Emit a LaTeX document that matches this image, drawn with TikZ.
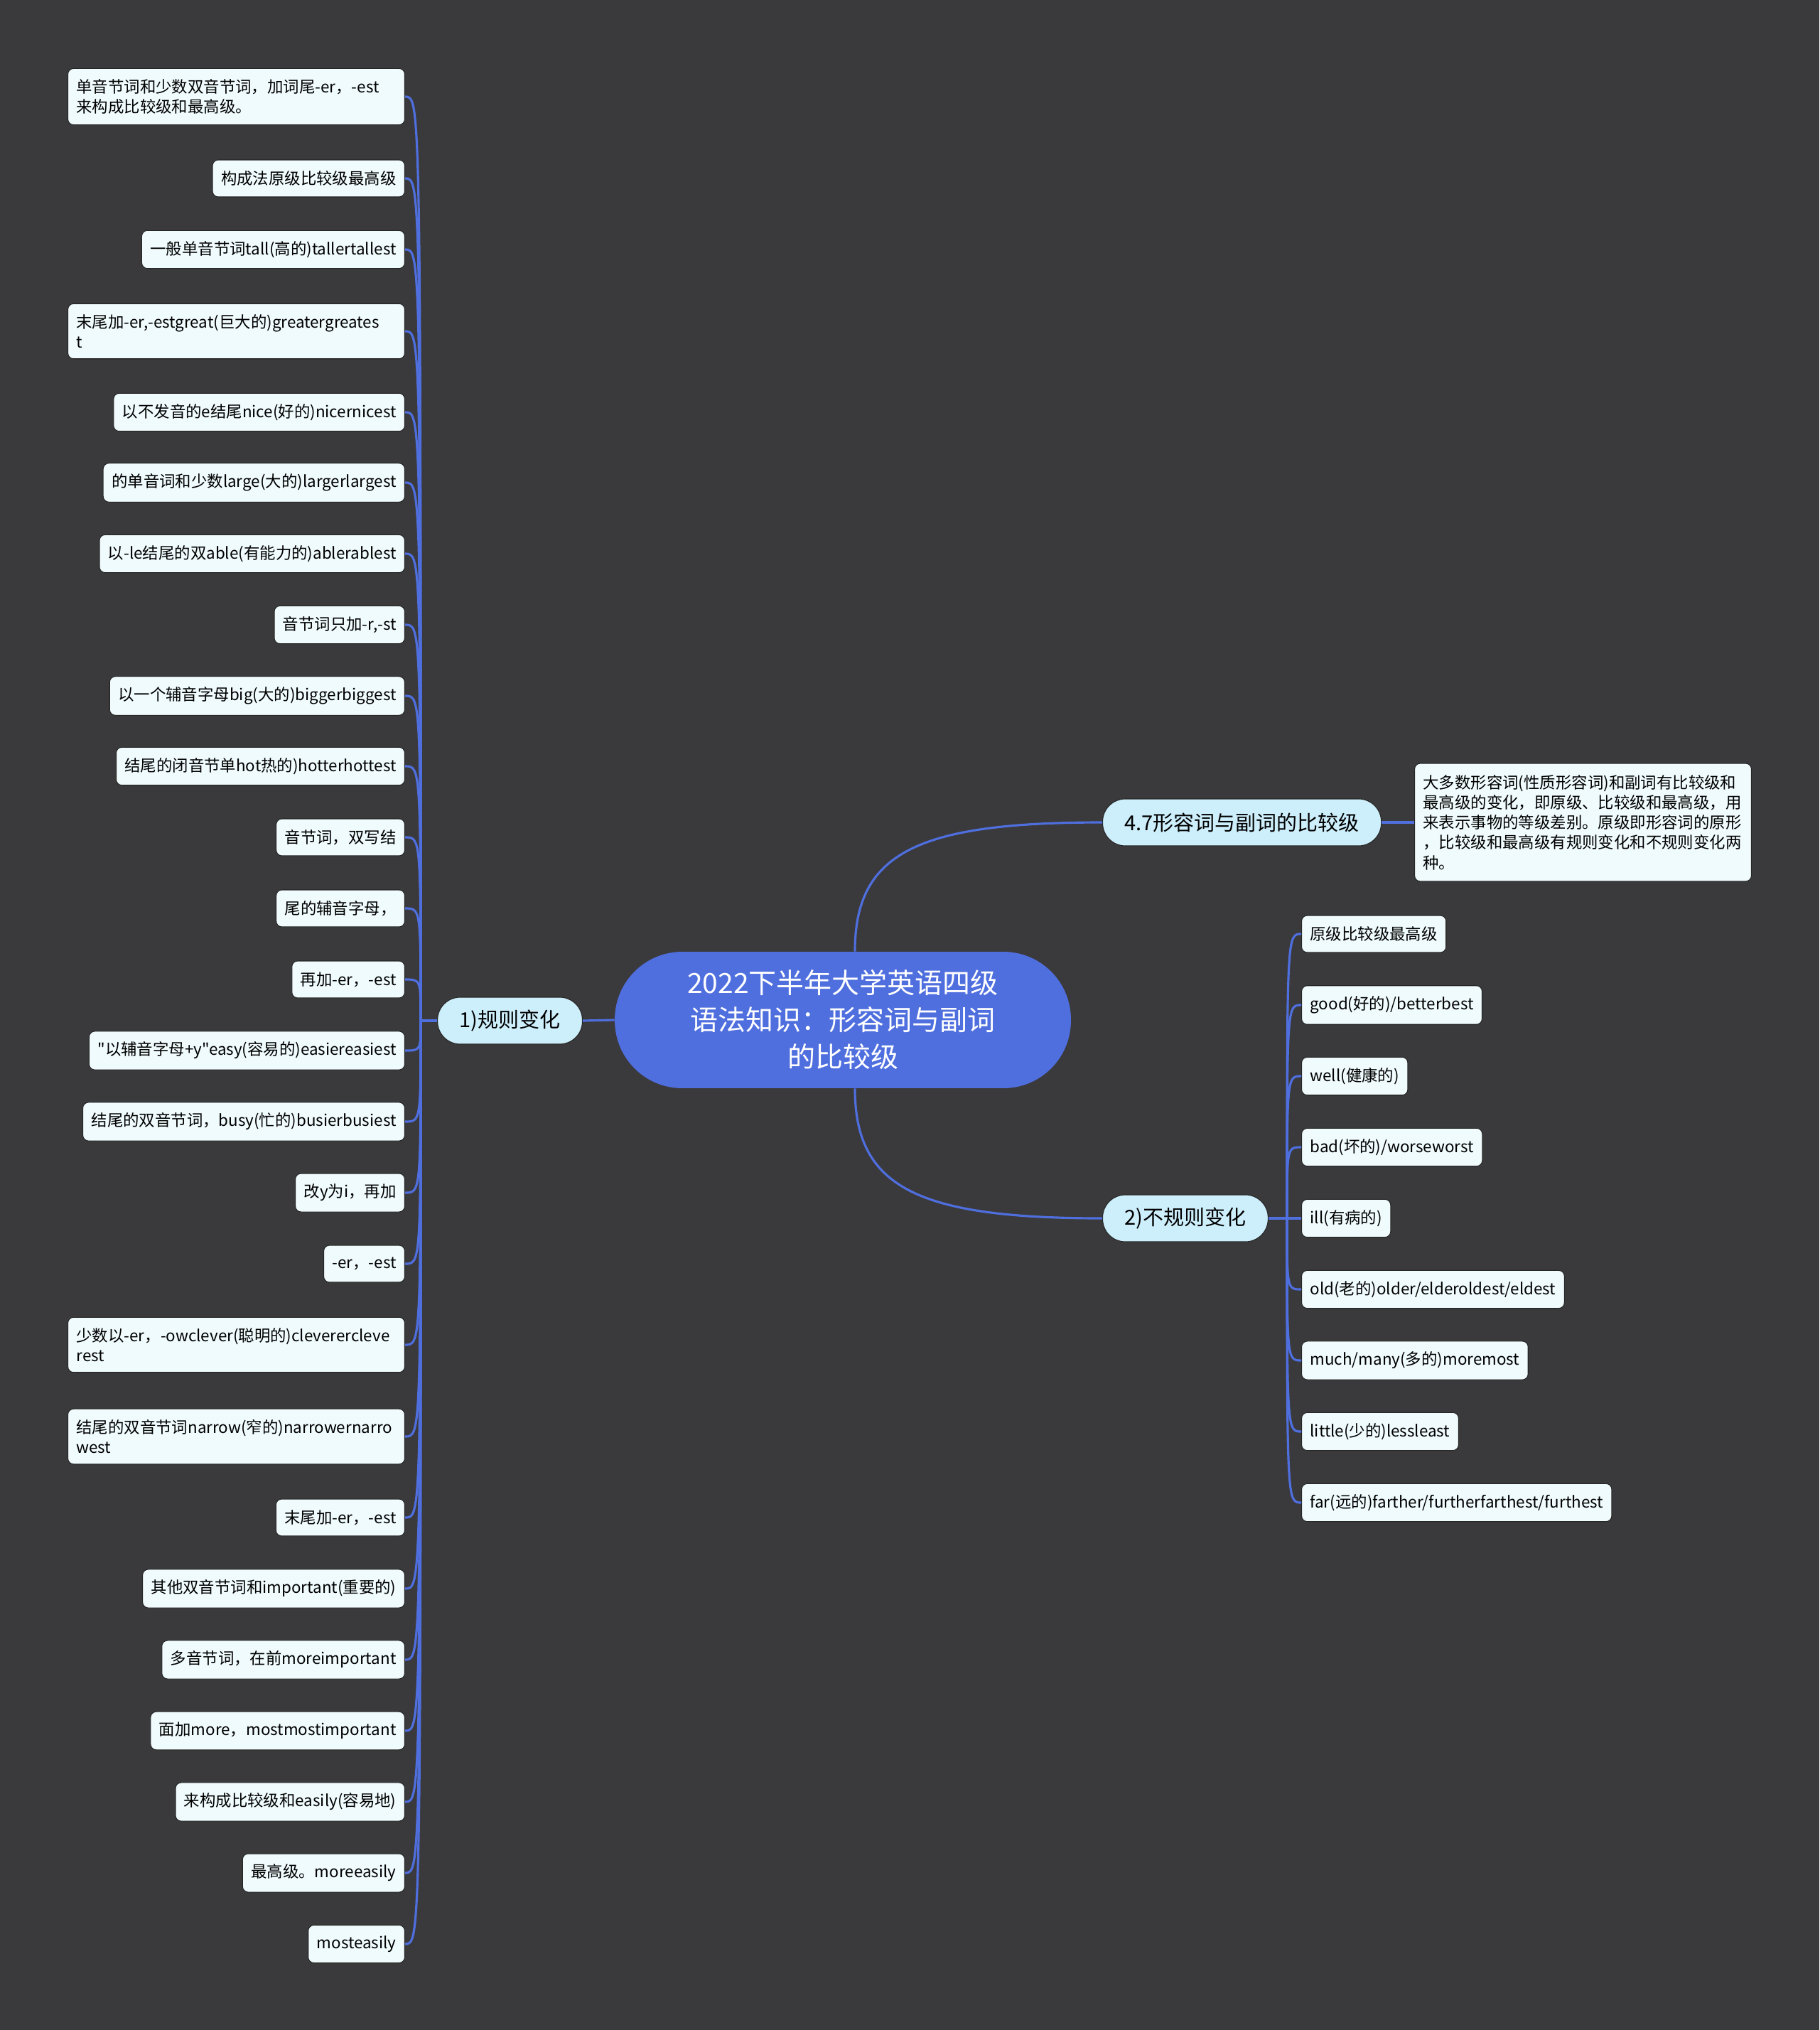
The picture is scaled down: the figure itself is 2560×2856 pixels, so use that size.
\documentclass[tikz,border=0pt]{standalone}
\usepackage{fontspec}
\setmainfont{Noto Sans CJK SC}[Ligatures=TeXOff]
\definecolor{mapbg}{HTML}{3A393B}
\definecolor{mapblue}{HTML}{4F6FDF}
\definecolor{topicfill}{HTML}{CDEEFB}
\definecolor{leaffill}{HTML}{F0FBFD}
\definecolor{edgedark}{HTML}{262626}
\tikzset{
  leaf/.style={draw=edgedark,line width=0.6pt,fill=leaffill,rounded corners=0.16cm,
    inner xsep=0.24cm,inner ysep=0.3cm,minimum height=1.04cm,align=left,
    font=\fontsize{12.75}{16.1}\selectfont},
  wideleaf/.style={leaf,text width=9cm},
  topic/.style={draw=edgedark,line width=0.6pt,fill=topicfill,rounded corners=0.64cm,
    inner xsep=0.62cm,minimum height=1.32cm,font=\fontsize{16.5}{20}\selectfont},
  title/.style={fill=mapblue,rounded corners=1.9cm,minimum width=12.84cm,minimum height=3.84cm,
    text=white,align=center,font=\fontsize{22.2}{29.6}\selectfont},
  link/.style={draw=mapblue,line width=1.8pt}
}
\begin{document}
\begin{tikzpicture}[x=0.02cm,y=-0.02cm]
    \fill[mapbg] (0,0) rectangle (2560,2856);
    % centre and main branches
    \node[title] (title) at (1186,1435) {2022下半年大学英语四级\\语法知识：形容词与副词\\的比较级};
    \node[topic,anchor=east] (reg) at (820,1436) {1)规则变化};
    \node[topic,anchor=west] (sum) at (1551,1157) {4.7形容词与副词的比较级};
    \node[topic,anchor=west] (irr) at (1551,1714) {2)不规则变化};
    \node[wideleaf,anchor=west,inner ysep=0.32cm] (desc) at (1990,1157)
      {大多数形容词(性质形容词)和副词有比较级和\\最高级的变化，即原级、比较级和最高级，用\\来表示事物的等级差别。原级即形容词的原形\\，比较级和最高级有规则变化和不规则变化两\\种。};
    \coordinate (ljoin) at (592,1436);
    \coordinate (rjoin) at (1811,1714);
    % regular forms
    \node[wideleaf,anchor=east] (a1) at (570,136) {单音节词和少数双音节词，加词尾-er，-est\\来构成比较级和最高级。};
    \node[leaf,anchor=east] (a2) at (570,251) {构成法原级比较级最高级};
    \node[leaf,anchor=east] (a3) at (570,351) {一般单音节词tall(高的)tallertallest};
    \node[wideleaf,anchor=east] (a4) at (570,466) {末尾加-er,-estgreat(巨大的)greatergreates\\t};
    \node[leaf,anchor=east] (a5) at (570,580) {以不发音的e结尾nice(好的)nicernicest};
    \node[leaf,anchor=east] (a6) at (570,679) {的单音词和少数large(大的)largerlargest};
    \node[leaf,anchor=east] (a7) at (570,779) {以-le结尾的双able(有能力的)ablerablest};
    \node[leaf,anchor=east] (a8) at (570,879) {音节词只加-r,-st};
    \node[leaf,anchor=east] (a9) at (570,979) {以一个辅音字母big(大的)biggerbiggest};
    \node[leaf,anchor=east] (a10) at (570,1078) {结尾的闭音节单hot热的)hotterhottest};
    \node[leaf,anchor=east] (a11) at (570,1178) {音节词，双写结};
    \node[leaf,anchor=east] (a12) at (570,1278) {尾的辅音字母，};
    \node[leaf,anchor=east] (a13) at (570,1378) {再加-er，-est};
    \node[leaf,anchor=east] (a14) at (570,1478) {"以辅音字母+y"easy(容易的)easiereasiest};
    \node[leaf,anchor=east] (a15) at (570,1578) {结尾的双音节词，busy(忙的)busierbusiest};
    \node[leaf,anchor=east] (a16) at (570,1678) {改y为i，再加};
    \node[leaf,anchor=east] (a17) at (570,1778) {-er，-est};
    \node[wideleaf,anchor=east] (a18) at (570,1892) {少数以-er，-owclever(聪明的)cleverercleve\\rest};
    \node[wideleaf,anchor=east] (a19) at (570,2021) {结尾的双音节词narrow(窄的)narrowernarro\\west};
    \node[leaf,anchor=east] (a20) at (570,2135) {末尾加-er，-est};
    \node[leaf,anchor=east] (a21) at (570,2235) {其他双音节词和important(重要的)};
    \node[leaf,anchor=east] (a22) at (570,2335) {多音节词，在前moreimportant};
    \node[leaf,anchor=east] (a23) at (570,2435) {面加more，mostmostimportant};
    \node[leaf,anchor=east] (a24) at (570,2535) {来构成比较级和easily(容易地)};
    \node[leaf,anchor=east] (a25) at (570,2635) {最高级。moreeasily};
    \node[leaf,anchor=east] (a26) at (570,2735) {mosteasily};
    % irregular forms
    \foreach \y/\txt [count=\i] in {
      1314/{原级比较级最高级},
      1414/{good(好的)/betterbest},
      1514/{well(健康的)},
      1614/{bad(坏的)/worseworst},
      1714/{ill(有病的)},
      1814/{old(老的)older/elderoldest/eldest},
      1914/{much/many(多的)moremost},
      2014/{little(少的)lessleast},
      2114/{far(远的)farther/furtherfarthest/furthest}}
      \node[leaf,anchor=west] (b\i) at (1831,\y) {\txt};
    % connectors
    \draw[link] (title.west) -- (reg.east);
    \draw[link] (reg.west) -- (ljoin);
    \draw[link] (title.80) .. controls (1203,1200) and (1290,1157) .. (sum.west);
    \draw[link] (title.-80) .. controls (1203,1670) and (1290,1714) .. (irr.west);
    \draw[link] (sum.east) -- (desc.west);
    \draw[link] (irr.east) -- (rjoin);
    \foreach \i in {1,...,26}
      \draw[link] (ljoin) .. controls (ljoin |- a\i.east) .. (a\i.east);
    \foreach \i in {1,...,9}
      \draw[link] (rjoin) .. controls (rjoin |- b\i.west) .. (b\i.west);
\end{tikzpicture}
\end{document}
